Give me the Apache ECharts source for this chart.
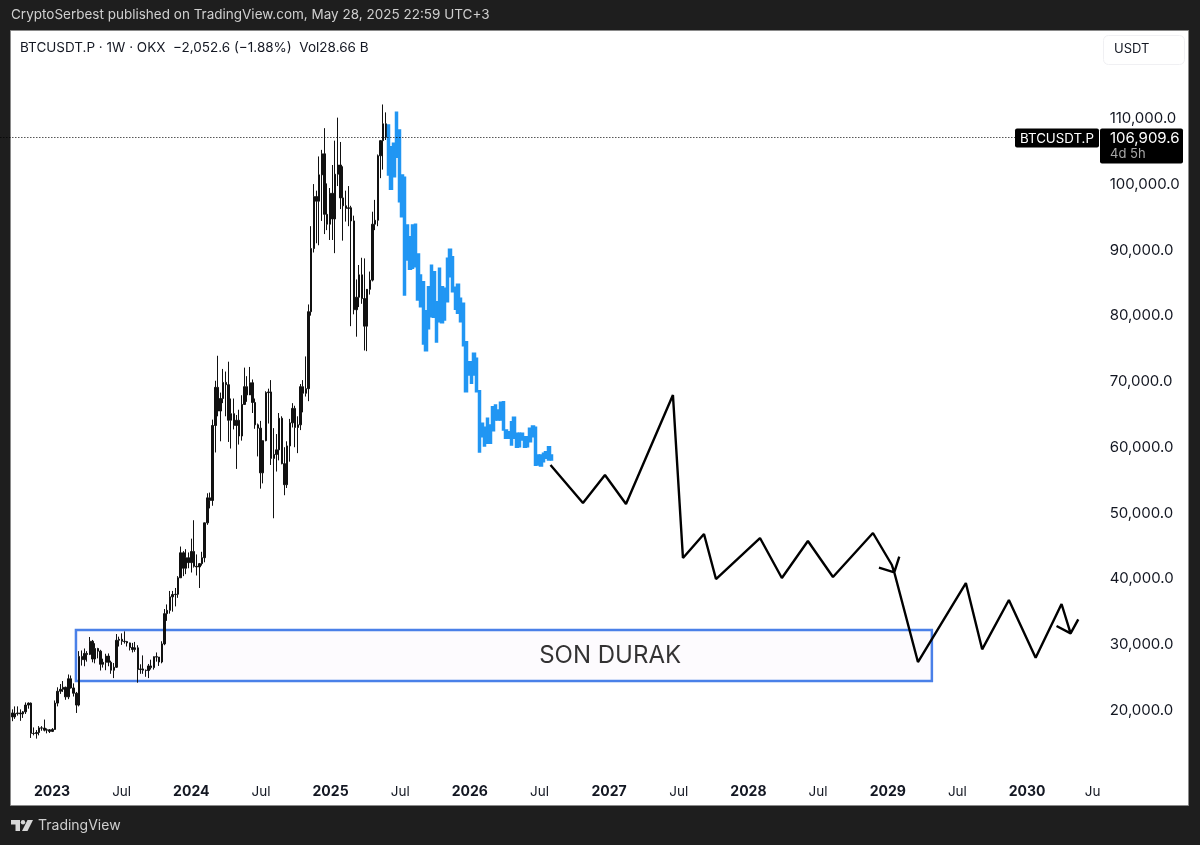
<!DOCTYPE html>
<html>
<head>
<meta charset="utf-8">
<style>html,body{margin:0;padding:0;background:#1e1e1e;}#c{width:1200px;height:845px;}</style>
<script src="https://cdn.jsdelivr.net/npm/echarts@6/dist/echarts.min.js"></script>
</head>
<body>
<div id="c"></div>
<script>
// Weekly candles (black), first week and OHLC columns
const firstBlackWeek = '2022-09-19';
const blackOpen = [
19400,18800,19300,19400,19260,19570,20600,20900,16300,16280,16430,17130,17100,16780,16840,
16600,16900,20900,22700,23000,23300,21850,24600,23200,22400,20600,28000,27500,28450,28300,30300,27600,29200,28800,26800,27100,28050,27100,25900,26350,30450,30600,30300,30250,30050,29350,29050,29300,26000,26100,25900,25850,26550,26300,27950,27900,27150,29900,34500,35000,37050,37400,37450,39950,43750,41400,43000,
42250,43950,41700,41600,42100,43000,48300,52100,51700,63100,68900,65300,67200,69650,69300,63900,64900,63100,63900,61500,66300,69000,67750,69600,66600,63200,62700,55900,60800,68100,68200,58100,58700,59400,64200,57300,54100,60000,63500,65700,62800,63200,69000,68000,68700,80400,90000,97900,97200,101200,104400,95200,93700,
98400,94500,101300,102700,97700,96500,96100,96200,94200,80700,82600,86000,82400,78200,83800,85200,93700,94300,104100,106400,108960];
const blackHigh = [
19950,20400,20400,19950,19700,21000,21000,21000,17200,16800,17400,17400,18400,17050,16950,
17100,21300,23300,23800,24250,23400,25250,25100,23900,22600,28800,28900,29200,28800,30950,30500,30000,29300,29000,27650,28400,28450,27350,27000,31400,31000,31500,31800,30350,30100,30050,30200,29700,26800,28150,26000,26850,27500,28000,28600,27900,30300,35200,35900,37950,37950,38400,40200,44700,44000,44300,43800,
45900,48700,43500,42200,43900,48200,52800,52900,64000,69900,73700,68100,71700,71300,72800,67200,67200,64700,65500,67700,71900,70600,72000,70100,67200,63400,63800,59500,68300,68700,70000,62700,61800,65000,64500,59800,60700,64100,66500,66100,64500,69400,70000,73600,81500,93400,99800,98800,104000,105000,108300,99900,99200,
102700,106400,109900,106200,102500,98800,99500,96500,95000,85300,87500,88600,88500,83500,86500,95600,97400,104300,105800,111900,110700];
const blackLow = [
18150,18500,19000,18200,18650,19250,20050,15600,16000,15500,16000,16700,16600,16300,16350,
16500,17100,20400,22300,22600,21400,21500,23100,21900,19400,20400,26600,26500,27200,28200,27100,26950,27700,25850,26300,25900,26500,25350,24700,26250,29500,29750,29950,29500,28900,28600,28700,24000,25350,25350,24900,24700,26000,26000,27200,26550,26950,29700,33400,34500,34800,35600,36900,39950,40200,40500,41400,
40750,41500,40300,38400,41800,42300,48000,50500,50900,59000,64500,60700,66500,64500,60600,59600,62500,56500,60200,60800,66300,66700,68500,65000,62600,58400,53500,54300,60700,63400,57100,49000,56100,57800,57200,52500,53600,57600,62800,59800,58900,62400,65100,67500,66800,79800,89400,90800,90500,94200,92200,92800,91300,
91300,89300,99500,96000,91200,94100,93400,78200,80000,76600,81100,81600,74500,74400,83000,85000,92800,93400,100700,102000,106500];
const blackClose = [
18800,19300,19400,19260,19570,20600,20900,16300,16280,16430,17130,17100,16780,16840,16600,
16900,20900,22700,23000,23300,21850,24600,23200,22400,20600,28000,27500,28450,28300,30300,27600,29200,28800,26800,27100,28050,27100,25900,26350,30450,30600,30300,30250,30050,29350,29050,29300,26000,26100,25900,25850,26550,26300,27950,27900,27150,29900,34500,35000,37050,37400,37450,39950,43750,41400,43000,42250,
43950,41700,41600,42100,43000,48300,52100,51700,63100,68900,65300,67200,69650,69300,63900,64900,63100,63900,61500,66300,69000,67750,69600,66600,63200,62700,55900,60800,68100,68200,58100,58700,59400,64200,57300,54100,60000,63500,65700,62800,63200,69000,68000,68700,80400,90000,97900,97200,101200,104400,95200,93700,98400,
94500,101300,102700,97700,96500,96100,96200,94200,80700,82600,86000,82400,78200,83800,85200,93700,94300,104100,106400,108960,106909.6];

// Projected high/low bars (blue)
const firstBlueWeek = '2025-06-02';
const blueHigh = [108785,105491,105998,110711,108025,101183,100828,93581,91807,93581,93682,89172,85979,84965,80556,84205,87448,86486,81925,86992,84205,83952,88513,89881,88766,84104,84560,82431,81671,
75846,72805,72805,74072,73312,68396,63429,62821,64189,63175,65963,66216,65456,66622,66723,62415,62162,63682,64341,61909,61909,61909,61402,61402,62669,63024,62821,58614,58614,58868,59121,59882,58614];
const blueLow = [101183,99004,100930,103869,97129,94848,82938,88260,86841,86992,87246,82178,81164,75488,74475,77820,79644,79543,75794,78884,78732,79137,81925,85726,83445,80759,80151,78884,75235,
68244,70778,69511,70778,68244,59071,61402,59983,60388,60388,62314,63936,63936,63936,62415,61148,61148,60135,61148,59780,59881,60895,59780,59881,60642,61402,57043,57094,56942,57601,58108,57854,57854];

// Hand-drawn projection path, years and prices (null = pen lift)
const pathYears = [2026.579,2026.812,2026.970,2027.121,2027.458,2027.530,2027.681,2027.767,2028.083,2028.240,2028.427,2028.607,2028.894,2029.030,2029.047,2029.217,2029.561,2029.678,2029.870,2030.062,2030.248,2030.313,null,2028.937,2029.047,2029.083,null,2030.212,2030.313,2030.368];
const pathPrices = [57095,51318,55575,51166,67737,42957,46605,39764,45997,39916,45541,40068,46757,41892,40782,27145,39156,29076,36571,27799,35963,31509,null,41482,40782,43154,null,32618,31509,33637];

// Zone box and its label
const zoneYears = [2023.172, 2029.317];
const zonePrices = [24257, 32010];
const zoneLabelPoint = [2027.007, 28100];
const zoneLabel = 'SON DURAK';

const lastPrice = 106909.6;
const titleText = 'CryptoSerbest published on TradingView.com, May 28, 2025 22:59 UTC+3';
const legendText = 'BTCUSDT.P · 1W · OKX  −2,052.6 (−1.88%)  Vol28.66 B';

const FONT = 'Inter, "Noto Sans", sans-serif';
const DAY = 86400000;
function yearOf(ms) {
  const d = new Date(ms), y = d.getUTCFullYear();
  return y + (ms - Date.UTC(y, 0, 1)) / (Date.UTC(y + 1, 0, 1) - Date.UTC(y, 0, 1));
}
function weekYear(first, i) { return yearOf(Date.parse(first + 'T00:00:00Z') + i * 7 * DAY); }

const blackData = blackOpen.map((o, i) => [weekYear(firstBlackWeek, i), o, blackClose[i], blackLow[i], blackHigh[i]]);
const blueData = blueHigh.map((h, i) => [weekYear(firstBlueWeek, i), blueLow[i], h, blueLow[i], h]);
const pathData = pathYears.map((x, i) => x === null ? [null, null] : [x, pathPrices[i]]);

const chart = echarts.init(document.getElementById('c'), null, {renderer: 'canvas'});
chart.setOption({
  animation: false,
  backgroundColor: '#1e1e1e',
  grid: {left: -17.65, top: 51.2, width: 1114.3, height: 723.6, containLabel: false, outerBoundsMode: 'none'},
  xAxis: {
    type: 'value', min: 2022.5, max: 2030.5, interval: 0.5, scale: true,
    axisLine: {show: false}, axisTick: {show: false}, splitLine: {show: false},
    axisLabel: {
      margin: 10, hideOverlap: false, showMinLabel: false, showMaxLabel: true,
      formatter: v => {
        if (v === 2030.5) return '{e|Ju}';
        if (v % 1 === 0) return '{b|' + v + '}';
        return '{n|Jul}';
      },
      rich: {
        b: {fontFamily: FONT, fontSize: 14, fontWeight: 700, color: '#131722'},
        n: {fontFamily: FONT, fontSize: 13.5, color: '#131722'},
        e: {fontFamily: FONT, fontSize: 13.5, color: '#131722', padding: [0, 8, 0, 0]}
      }
    }
  },
  yAxis: {
    type: 'value', position: 'right', min: 10000, max: 120000, interval: 10000,
    axisLine: {show: false}, axisTick: {show: false}, splitLine: {show: false},
    axisLabel: {
      margin: 13, showMinLabel: false, showMaxLabel: false,
      formatter: v => '{p|' + v.toLocaleString('en-US', {minimumFractionDigits: 1, maximumFractionDigits: 1}) + '}',
      rich: {p: {fontFamily: FONT, fontSize: 15, color: '#131722', padding: [3, 0, 0, 0]}}
    }
  },
  series: [
    {
      type: 'line', name: 'zone', z: 1, symbol: 'none', data: [], silent: true,
      markArea: {
        silent: true,
        itemStyle: {color: '#fdfbfe', borderColor: '#4a80e8', borderWidth: 2.5},
        data: [[{coord: [zoneYears[0], zonePrices[1]]}, {coord: [zoneYears[1], zonePrices[0]]}]]
      }
    },
    {
      type: 'candlestick', name: 'BTCUSDT.P', z: 3, barWidth: 2, data: blackData, silent: true,
      encode: {x: 0, y: [1, 2, 3, 4]},
      itemStyle: {color: '#111', color0: '#111', borderColor: '#111', borderColor0: '#111', borderWidth: 1},
      markLine: {
        silent: true, symbol: 'none', animation: false,
        lineStyle: {color: '#000', type: [1, 2], width: 1},
        label: {show: false},
        data: [{yAxis: lastPrice}]
      }
    },
    {
      type: 'candlestick', name: 'bars pattern', z: 4, barWidth: 3, data: blueData, silent: true,
      encode: {x: 0, y: [1, 2, 3, 4]},
      itemStyle: {color: '#2196f3', color0: '#2196f3', borderColor: '#2196f3', borderColor0: '#2196f3', borderWidth: 1.5}
    },
    {
      type: 'line', name: 'path', z: 5, data: pathData, symbol: 'none', connectNulls: false, silent: true,
      lineStyle: {color: '#000', width: 2.4}
    },
    {
      type: 'scatter', name: 'label', z: 6, symbolSize: 0, silent: true, data: [zoneLabelPoint],
      label: {show: true, position: 'inside', formatter: zoneLabel, fontFamily: FONT, fontSize: 24, color: '#000'}
    }
  ],
  graphic: [
    {type: 'rect', z: -10, silent: true, shape: {x: 10.5, y: 30.5, width: 1178, height: 775}, style: {fill: '#fff', stroke: '#8a8a8a', lineWidth: 1}},
    {type: 'text', z: 100, silent: true, x: 11, y: 15, style: {text: titleText, fontFamily: FONT, fontSize: 13.5, fill: '#cfcfcf', verticalAlign: 'middle'}},
    {type: 'text', z: 100, silent: true, x: 20, y: 48, style: {text: legendText, fontFamily: FONT, fontSize: 13.5, fill: '#131722', verticalAlign: 'middle'}},
    {type: 'rect', z: 100, silent: true, shape: {x: 1103.5, y: 35.5, width: 81, height: 29, r: 5}, style: {fill: '#fff', stroke: '#f0f0f3', lineWidth: 1}},
    {type: 'text', z: 100, silent: true, x: 1114, y: 49.5, style: {text: 'USDT', fontFamily: FONT, fontSize: 13, fill: '#131722', verticalAlign: 'middle'}},
    {type: 'rect', z: 100, silent: true, shape: {x: 1015, y: 128.5, width: 84, height: 19, r: 2}, style: {fill: '#000'}},
    {type: 'text', z: 101, silent: true, x: 1020, y: 138.5, style: {text: 'BTCUSDT.P', fontFamily: FONT, fontSize: 13.3, fill: '#fff', verticalAlign: 'middle'}},
    {type: 'rect', z: 100, silent: true, shape: {x: 1100, y: 128.5, width: 83, height: 35, r: 2}, style: {fill: '#000'}},
    {type: 'text', z: 101, silent: true, x: 1110, y: 138.5, style: {text: '106,909.6', fontFamily: FONT, fontSize: 15, fill: '#fff', verticalAlign: 'middle'}},
    {type: 'text', z: 101, silent: true, x: 1110, y: 154, style: {text: '4d 5h', fontFamily: FONT, fontSize: 13, fill: '#a8a8a8', verticalAlign: 'middle'}},
    {type: 'polygon', z: 100, silent: true, shape: {points: [[11,820],[20,820],[20,831],[15.5,831],[15.5,824.5],[11,824.5]]}, style: {fill: '#d8d8d8'}},
    {type: 'circle', z: 100, silent: true, shape: {cx: 23, cy: 822.2, r: 2.2}, style: {fill: '#d8d8d8'}},
    {type: 'polygon', z: 100, silent: true, shape: {points: [[27.5,820],[33,820],[27.5,831],[22,831]]}, style: {fill: '#d8d8d8'}},
    {type: 'text', z: 100, silent: true, x: 38, y: 826, style: {text: 'TradingView', fontFamily: FONT, fontSize: 14, fill: '#cfcfcf', verticalAlign: 'middle'}}
  ]
});
</script>
</body>
</html>
